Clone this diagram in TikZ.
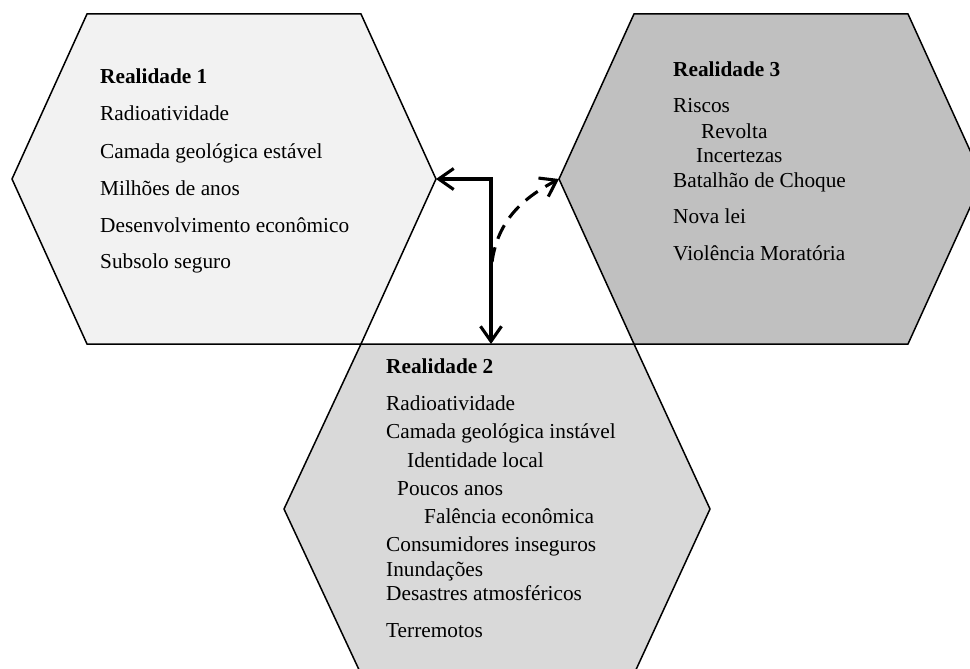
\documentclass[tikz,border=0pt]{standalone}
\usepackage{fontspec}
\setmainfont{Liberation Serif}
\usetikzlibrary{arrows.meta}
\definecolor{greyA}{HTML}{F2F2F2}
\definecolor{greyB}{HTML}{D9D9D9}
\definecolor{greyC}{HTML}{C0C0C0}
\begin{document}
\begin{tikzpicture}[x=1pt,y=-1pt,
  >={Straight Barb[length=15pt,width=21pt]},
  hexa/.style={draw=black,line width=1.5pt,line join=miter},
  lbl/.style={anchor=base west,inner sep=0pt,font=\fontsize{21.3}{25}\selectfont},
  ttl/.style={anchor=base west,inner sep=0pt,font=\fontsize{21.3}{25}\selectfont\bfseries},
  arr/.style={line width=3.1pt}
]
\useasboundingbox (0,0) rectangle (970,669);
\begin{scope}
\clip (0,0) rectangle (970,669);
% hexagons
\draw[hexa,fill=greyA] (87,14) -- (361,14) -- (436,179) -- (361,344) -- (87,344) -- (12,179) -- cycle;
\draw[hexa,fill=greyC] (634,14) -- (908,14) -- (983,179) -- (908,344) -- (634,344) -- (559,179) -- cycle;
\draw[hexa,fill=greyB] (361,344) -- (634,344) -- (710,509) -- (634,674) -- (361,674) -- (284,509) -- cycle;
\end{scope}
% anchor points
\coordinate (h1r) at (436,179);
\coordinate (h3l) at (559,179);
\coordinate (h2t) at (491,344);
\coordinate (corner) at (491,179);
\coordinate (dstart) at (492,262);
% arrows
\draw[arr,<->,line join=miter] (h1r) -- (corner) -- (h2t);
\draw[arr,->,dash pattern=on 15pt off 9pt] (dstart) to[out=82,in=208] (h3l);
% Realidade 1
\node[ttl] (r1t) at (100,84) {Realidade 1};
\node[lbl] (r1a) at (100,121) {Radioatividade};
\node[lbl] (r1b) at (100,158) {Camada geológica estável};
\node[lbl] (r1c) at (100,195) {Milhões de anos};
\node[lbl] (r1d) at (100,232) {Desenvolvimento econômico};
\node[lbl] (r1e) at (100,268) {Subsolo seguro};
% Realidade 3
\node[ttl] (r3t) at (673,77) {Realidade 3};
\node[lbl] (r3a) at (673,113) {Riscos};
\node[lbl] (r3b) at (701,138) {Revolta};
\node[lbl] (r3c) at (696,162) {Incertezas};
\node[lbl] (r3d) at (673,187) {Batalhão de Choque};
\node[lbl] (r3e) at (673,223) {Nova lei};
\node[lbl] (r3f) at (673,260) {Violência Moratória};
% Realidade 2
\node[ttl] (r2t) at (386,373) {Realidade 2};
\node[lbl] (r2a) at (386,410) {Radioatividade};
\node[lbl] (r2b) at (386,438) {Camada geológica instável};
\node[lbl] (r2c) at (407,467) {Identidade local};
\node[lbl] (r2d) at (397,495) {Poucos anos};
\node[lbl] (r2e) at (424,523) {Falência econômica};
\node[lbl] (r2f) at (386,551) {Consumidores inseguros};
\node[lbl] (r2g) at (386,576) {Inundações};
\node[lbl] (r2h) at (386,600) {Desastres atmosféricos};
\node[lbl] (r2i) at (386,637) {Terremotos};
\end{tikzpicture}
\end{document}
